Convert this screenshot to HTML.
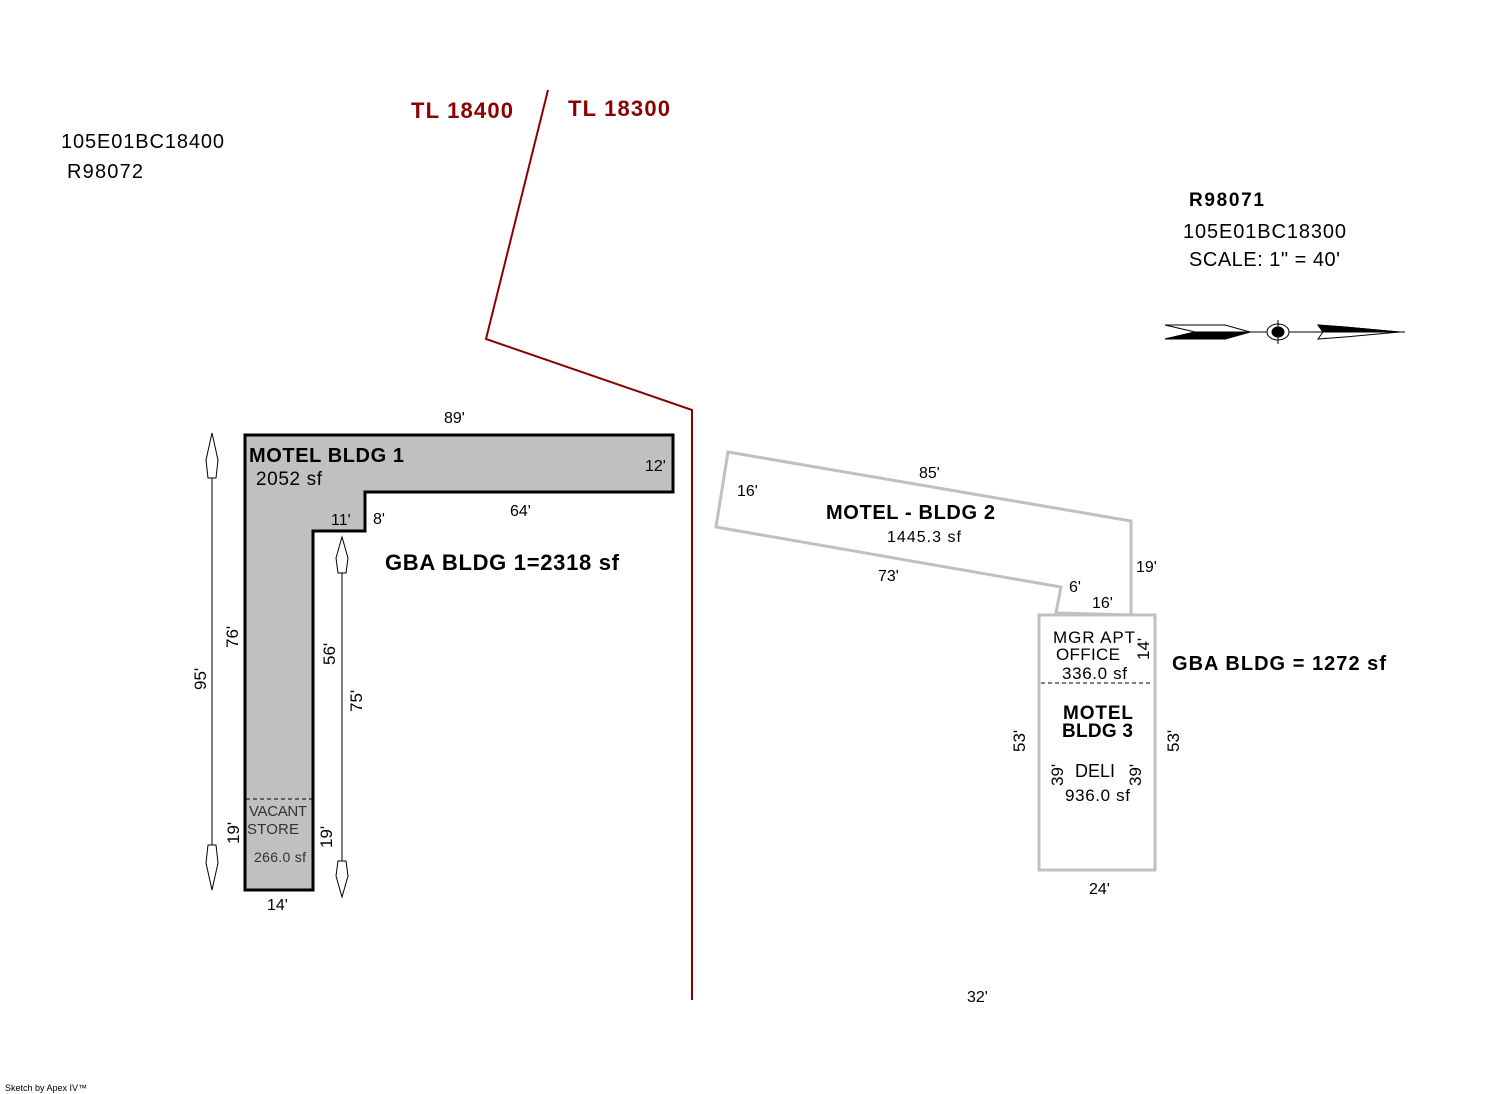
<!DOCTYPE html>
<html><head><meta charset="utf-8"><style>
body{margin:0;background:#fff}
svg{display:block;font-family:"Liberation Sans",Arial,sans-serif}
</style></head><body>
<svg width="1492" height="1094" viewBox="0 0 1492 1094">
<rect width="1492" height="1094" fill="#fff"/>
<polyline points="548,90 486,339 692,410 692,1000" fill="none" stroke="#8b0000" stroke-width="2"/>
<text x="411" y="118" fill="#8b0000" font-size="22" font-weight="bold" textLength="102">TL 18400</text>
<text x="568" y="116" fill="#8b0000" font-size="22" font-weight="bold" textLength="102">TL 18300</text>
<text x="61" y="148" font-size="20" textLength="163">105E01BC18400</text>
<text x="67" y="178" font-size="20" textLength="76">R98072</text>
<text x="1189" y="206" font-size="19" font-weight="bold" textLength="75">R98071</text>
<text x="1183" y="238" font-size="20" textLength="163">105E01BC18300</text>
<text x="1189" y="266" font-size="20" textLength="151">SCALE: 1" = 40'</text>
<g stroke="#000" stroke-width="1">
<line x1="1250" y1="332" x2="1405" y2="332"/>
<polygon points="1165,325 1225,325 1250,332 1225,339 1165,339 1195,332" fill="#fff"/>
<polygon points="1165,339 1195,332 1250,332 1225,339" fill="#000"/>
<polygon points="1318,325 1345,327 1400,332 1345,337 1318,339 1323,332" fill="#fff"/>
<polygon points="1318,325 1345,327 1400,332 1323,332" fill="#000"/>
<ellipse cx="1278" cy="332" rx="11" ry="8" fill="#fff"/>
<ellipse cx="1278" cy="332" rx="6" ry="5" fill="#000"/>
<line x1="1278" y1="320" x2="1278" y2="344"/>
</g>
<polygon points="245,435 673,435 673,492 365,492 365,531 313,531 313,890 245,890" fill="#c0c0c0" stroke="#000" stroke-width="3"/>
<line x1="246" y1="799" x2="312" y2="799" stroke="#000" stroke-width="1" stroke-dasharray="4,3"/>
<text x="249" y="462" font-size="20" font-weight="bold" textLength="155">MOTEL BLDG 1</text>
<text x="256" y="485" font-size="19" textLength="66">2052 sf</text>
<text x="645" y="471" font-size="16">12'</text>
<text x="331" y="525" font-size="16">11'</text>
<text x="373" y="524" font-size="16">8'</text>
<text x="510" y="516" font-size="16">64'</text>
<text x="444" y="423" font-size="16">89'</text>
<text x="385" y="570" font-size="22" font-weight="bold" textLength="234">GBA BLDG 1=2318 sf</text>
<text x="249" y="816" font-size="15" fill="#333" textLength="58">VACANT</text>
<text x="247" y="834" font-size="15" fill="#333" textLength="52">STORE</text>
<text x="254" y="862" font-size="14" fill="#333" textLength="52">266.0 sf</text>
<text x="267" y="910" font-size="16">14'</text>
<g font-size="17">
<text transform="translate(238,648) rotate(-90)">76'</text>
<text transform="translate(206,690) rotate(-90)">95'</text>
<text transform="translate(335,665) rotate(-90)">56'</text>
<text transform="translate(362,712) rotate(-90)">75'</text>
<text transform="translate(239,844) rotate(-90)">19'</text>
<text transform="translate(332,848) rotate(-90)">19'</text>
</g>
<g stroke="#000" stroke-width="1" fill="#fff">
<line x1="212" y1="433" x2="212" y2="890"/>
<polygon points="212,433 206,460 208,478 216,478 218,460"/>
<polygon points="212,890 206,863 208,845 216,845 218,863"/>
<line x1="342" y1="537" x2="342" y2="897"/>
<polygon points="342,537 336,558 338,573 346,573 348,558"/>
<polygon points="342,897 336,876 338,861 346,861 348,876"/>
</g>
<polygon points="728,452 1131,521 1131,615 1056,613 1061,587 716,527" fill="none" stroke="#c0c0c0" stroke-width="3"/>
<text x="919" y="478" font-size="16">85'</text>
<text x="737" y="496" font-size="16">16'</text>
<text x="826" y="519" font-size="20" font-weight="bold" textLength="169">MOTEL - BLDG 2</text>
<text x="887" y="542" font-size="16" textLength="74">1445.3 sf</text>
<text x="878" y="581" font-size="16">73'</text>
<text x="1069" y="592" font-size="16">6'</text>
<text x="1136" y="572" font-size="16">19'</text>
<text x="1092" y="608" font-size="16">16'</text>
<rect x="1039" y="615" width="116" height="255" fill="none" stroke="#c0c0c0" stroke-width="3"/>
<line x1="1041" y1="683" x2="1153" y2="683" stroke="#000" stroke-dasharray="4,3"/>
<text x="1053" y="643" font-size="17" textLength="82">MGR APT</text>
<text x="1056" y="660" font-size="17" textLength="64">OFFICE</text>
<text x="1062" y="679" font-size="17" textLength="65">336.0 sf</text>
<text x="1063" y="719" font-size="19" font-weight="bold" textLength="70">MOTEL</text>
<text x="1062" y="737" font-size="19" font-weight="bold" textLength="71">BLDG 3</text>
<text x="1075" y="777" font-size="18" textLength="40">DELI</text>
<text x="1065" y="801" font-size="17" textLength="65">936.0 sf</text>
<text x="1089" y="894" font-size="16">24'</text>
<text x="967" y="1002" font-size="16">32'</text>
<g font-size="17">
<text transform="translate(1149,660) rotate(-90)">14'</text>
<text transform="translate(1025,752) rotate(-90)">53'</text>
<text transform="translate(1179,752) rotate(-90)">53'</text>
<text transform="translate(1063,786) rotate(-90)">39'</text>
<text transform="translate(1141,786) rotate(-90)">39'</text>
</g>
<text x="1172" y="670" font-size="20" font-weight="bold" textLength="214">GBA BLDG  = 1272 sf</text>
<text x="5" y="1091" font-size="9">Sketch by Apex IV™</text>
</svg>
</body></html>
